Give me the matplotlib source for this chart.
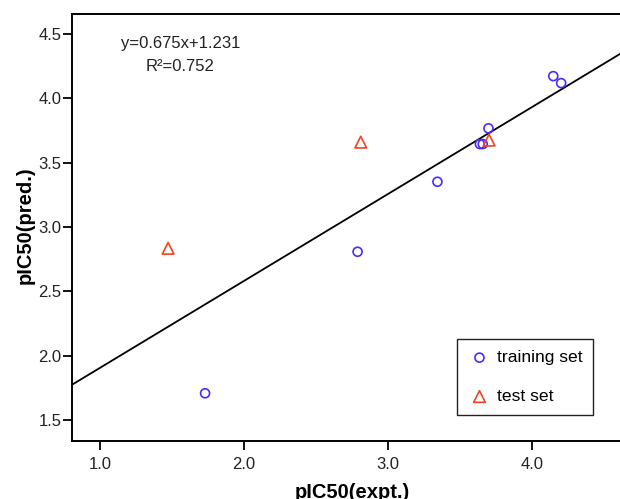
import matplotlib
matplotlib.use("Agg")
import matplotlib.pyplot as plt
import numpy as np

plt.rcParams['font.family'] = ['Liberation Sans', 'DejaVu Sans']

# Training set: experimental vs predicted pIC50
train_expt = [1.73, 2.79, 3.345, 3.64, 3.66, 3.70, 4.15, 4.205]
train_pred = [1.708, 2.808, 3.352, 3.645, 3.645, 3.767, 4.173, 4.119]

# Test set
test_expt = [1.473, 2.812, 3.704]
test_pred = [2.835, 3.66, 3.676]

# Regression line
slope, intercept = 0.675, 1.231
r2 = 0.752

x_ticks = [1.0, 2.0, 3.0, 4.0]
y_ticks = [1.5, 2.0, 2.5, 3.0, 3.5, 4.0, 4.5]

blue = '#4a2cf5'
red = '#f4421e'

fig = plt.figure(figsize=(6.2, 4.99), dpi=100)
ax = fig.add_axes([72/620, 58/499, 548/620, 427/499])

xlim = (0.805, 4.614)
ylim = (1.337, 4.656)
ax.set_xlim(*xlim)
ax.set_ylim(*ylim)

xs = np.array(xlim)
ax.plot(xs, slope * xs + intercept, color='black', lw=1.3, zorder=2)

ax.scatter(train_expt, train_pred, s=42, marker='o', facecolors='none',
           edgecolors=blue, linewidths=1.2, label='training set', zorder=3)
ax.scatter(test_expt, test_pred, s=70, marker='^', facecolors='none',
           edgecolors=red, linewidths=1.2, label='test set', zorder=3)

ax.text(0.198, 0.904, f'y={slope}x+{intercept}\nR\u00b2={r2}', transform=ax.transAxes,
        ha='center', va='center', fontsize=12, linespacing=1.7, multialignment='center',
        color='#222222')

ax.set_xticks(x_ticks)
ax.set_xticklabels([f'{v:.1f}' for v in x_ticks])
ax.set_yticks(y_ticks)
ax.set_yticklabels([f'{v:.1f}' for v in y_ticks])
ax.tick_params(direction='out', length=6.5, width=1.3, labelsize=12,
               labelcolor='#222222')
ax.tick_params(axis='x', pad=5)
ax.tick_params(axis='y', pad=1)

for side in ['left', 'bottom', 'top']:
    ax.spines[side].set_linewidth(1.4)
ax.spines['right'].set_visible(False)

ax.set_xlabel('pIC50(expt.)', fontsize=14.5, fontweight='bold')
ax.set_ylabel('pIC50(pred.)', fontsize=14.5, fontweight='bold')
ax.xaxis.set_label_coords(0.512, -0.098)
ax.yaxis.set_label_coords(-0.068, 0.505)

leg = ax.legend(loc='lower left', bbox_to_anchor=(0.703, 0.061), fontsize=12.6,
                labelspacing=1.35, borderpad=0.62, handletextpad=0.35,
                handlelength=1.3, fancybox=False, framealpha=1, borderaxespad=0)
leg.get_frame().set_edgecolor('#222222')
leg.get_frame().set_linewidth(1.0)

fig.savefig('out.png', dpi=100)
